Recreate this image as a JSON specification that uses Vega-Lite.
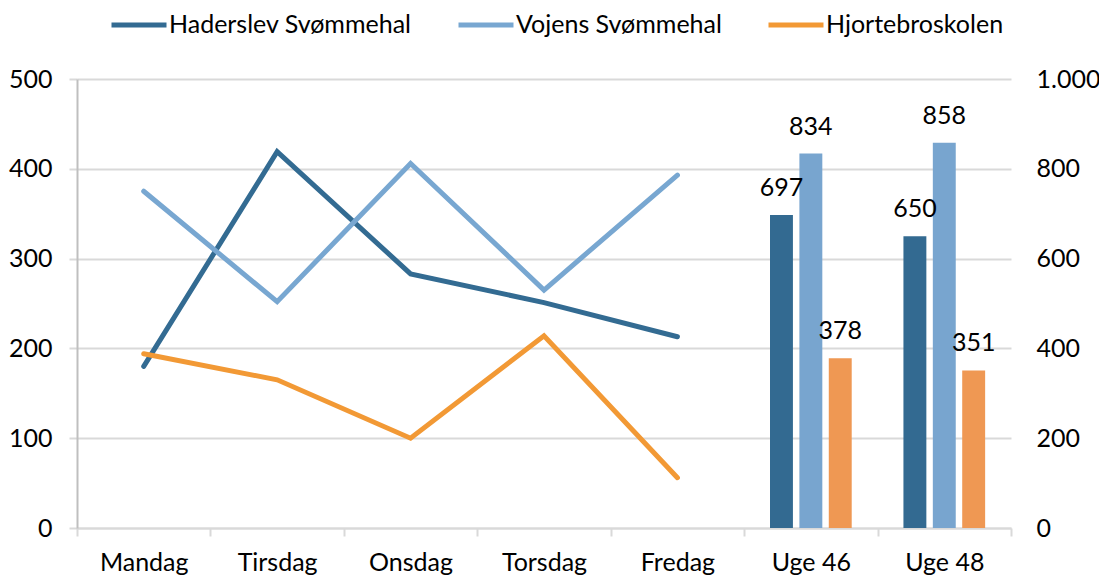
{
  "$schema": "https://vega.github.io/schema/vega-lite/v6.json",
  "autosize": {"type": "none"},
  "padding": {"left": 77, "top": 79, "right": 88, "bottom": 49},
  "width": 934,
  "height": 449,
  "background": "white",
  "config": {
    "view": {"stroke": null},
    "font": "Lato",
    "axis": {"labelFont": "Lato", "labelFontSize": 25, "labelColor": "#000000", "titleFont": "Lato"},
    "legend": {"labelFont": "Lato"},
    "text": {"font": "Lato"}
  },
  "datasets": {
    "lines": [
      {"day": "Mandag", "series": "Haderslev Svømmehal", "value": 180},
      {"day": "Tirsdag", "series": "Haderslev Svømmehal", "value": 419},
      {"day": "Onsdag", "series": "Haderslev Svømmehal", "value": 283},
      {"day": "Torsdag", "series": "Haderslev Svømmehal", "value": 251},
      {"day": "Fredag", "series": "Haderslev Svømmehal", "value": 213},
      {"day": "Mandag", "series": "Vojens Svømmehal", "value": 375},
      {"day": "Tirsdag", "series": "Vojens Svømmehal", "value": 252},
      {"day": "Onsdag", "series": "Vojens Svømmehal", "value": 406},
      {"day": "Torsdag", "series": "Vojens Svømmehal", "value": 265},
      {"day": "Fredag", "series": "Vojens Svømmehal", "value": 393},
      {"day": "Mandag", "series": "Hjortebroskolen", "value": 194},
      {"day": "Tirsdag", "series": "Hjortebroskolen", "value": 165},
      {"day": "Onsdag", "series": "Hjortebroskolen", "value": 100},
      {"day": "Torsdag", "series": "Hjortebroskolen", "value": 214},
      {"day": "Fredag", "series": "Hjortebroskolen", "value": 56}
    ],
    "bars": [
      {"day": "Uge 46", "series": "Haderslev Svømmehal", "value": 697},
      {"day": "Uge 46", "series": "Vojens Svømmehal", "value": 834},
      {"day": "Uge 46", "series": "Hjortebroskolen", "value": 378},
      {"day": "Uge 48", "series": "Haderslev Svømmehal", "value": 650},
      {"day": "Uge 48", "series": "Vojens Svømmehal", "value": 858},
      {"day": "Uge 48", "series": "Hjortebroskolen", "value": 351}
    ]
  },
  "layer": [
    {
      "data": {"name": "lines"},
      "mark": {"type": "line", "strokeWidth": 5, "strokeCap": "round", "strokeJoin": "miter"},
      "encoding": {
        "x": {
          "field": "day", "type": "nominal", "bandPosition": 0.5,
          "sort": ["Mandag", "Tirsdag", "Onsdag", "Torsdag", "Fredag", "Uge 46", "Uge 48"],
          "scale": {"type": "band", "domain": ["Mandag", "Tirsdag", "Onsdag", "Torsdag", "Fredag", "Uge 46", "Uge 48"], "paddingInner": 0, "paddingOuter": 0},
          "axis": {
            "title": null, "orient": "bottom", "labelAngle": 0,
            "domain": true, "domainColor": "#d9d9d9", "domainWidth": 2,
            "ticks": true, "tickColor": "#d9d9d9", "tickWidth": 2, "tickSize": 8, "tickBand": "extent",
            "labelPadding": 14, "grid": false
          }
        },
        "y": {
          "field": "value", "type": "quantitative",
          "scale": {"domain": [0, 500], "nice": false},
          "axis": {
            "title": null, "orient": "left", "values": [0, 100, 200, 300, 400, 500],
            "grid": true, "gridColor": "#d9d9d9", "gridWidth": 2,
            "domain": true, "domainColor": "#bfbfbf", "domainWidth": 2,
            "ticks": true, "tickColor": "#d9d9d9", "tickWidth": 2, "tickSize": 8,
            "labelPadding": 17
          }
        },
        "color": {
          "field": "series", "type": "nominal",
          "scale": {"domain": ["Haderslev Svømmehal", "Vojens Svømmehal", "Hjortebroskolen"], "range": ["#336b92", "#78a7d1", "#f29935"]},
          "legend": {
            "title": null, "orient": "none", "direction": "horizontal",
            "legendX": 32, "legendY": -84,
            "symbolType": "stroke", "symbolStrokeWidth": 5, "symbolSize": 3025,
            "labelFontSize": 25, "labelColor": "#000000", "labelOffset": 0,
            "columnPadding": 36, "labelLimit": 400
          }
        }
      }
    },
    {
      "data": {"name": "bars"},
      "encoding": {
        "x": {
          "field": "day", "type": "nominal",
          "sort": ["Mandag", "Tirsdag", "Onsdag", "Torsdag", "Fredag", "Uge 46", "Uge 48"],
          "scale": {"type": "band", "domain": ["Mandag", "Tirsdag", "Onsdag", "Torsdag", "Fredag", "Uge 46", "Uge 48"], "paddingInner": 0, "paddingOuter": 0}
        },
        "xOffset": {
          "field": "series", "type": "nominal",
          "sort": ["Haderslev Svømmehal", "Vojens Svømmehal", "Hjortebroskolen"],
          "scale": {"domain": ["Haderslev Svømmehal", "Vojens Svømmehal", "Hjortebroskolen"], "paddingInner": 0.22, "paddingOuter": 0.88}
        },
        "y": {
          "field": "value", "type": "quantitative",
          "scale": {"domain": [0, 1000], "nice": false},
          "axis": {
            "title": null, "orient": "right", "values": [0, 200, 400, 600, 800, 1000],
            "format": ",d", "labelExpr": "replace(datum.label, ',', '.')",
            "grid": false, "domain": false, "ticks": false, "labelPadding": 25
          }
        }
      },
      "layer": [
        {
          "mark": {"type": "bar"},
          "encoding": {
            "fill": {
              "field": "series", "type": "nominal",
              "scale": {"domain": ["Haderslev Svømmehal", "Vojens Svømmehal", "Hjortebroskolen"], "range": ["#336a91", "#78a5cf", "#ef9853"]},
              "legend": null
            }
          }
        },
        {
          "mark": {"type": "text", "baseline": "alphabetic", "align": "center", "dy": -19, "fontSize": 25, "color": "#000000"},
          "encoding": {
            "text": {"field": "value", "type": "quantitative"}
          }
        }
      ]
    }
  ],
  "resolve": {"scale": {"y": "independent"}}
}
